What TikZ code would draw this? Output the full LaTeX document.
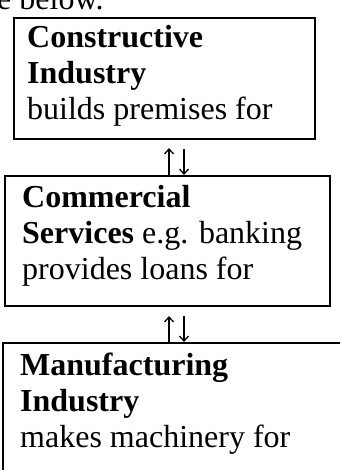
\documentclass[tikz,border=0pt]{standalone}
\usepackage{fontspec}
\setmainfont{Liberation Serif}
\usetikzlibrary{positioning, arrows.meta}

\begin{document}
\begin{tikzpicture}[
    x=1pt, y=1pt,
    font=\fontsize{32}{36}\selectfont,
    panel/.style={draw, rectangle, line width=2pt, outer sep=0pt, anchor=north west},
    boxtext/.style={inner sep=0pt, align=left},
    arrow/.style={-{Straight Barb[length=5pt, width=9pt]}, line width=1.3pt}
]
\clip (0,0) rectangle (340,-470);

% cut-off line of text above the chart
\node[boxtext, anchor=base west] (intro) at (-3,-10) {e below.};

\node[panel, minimum width=301pt, minimum height=121pt] (1) at (14,-18) {};
\node[panel, minimum width=325pt, minimum height=130pt] (2) at (5,-176) {};
\node[panel, minimum width=350pt, minimum height=140pt] (3) at (3,-343) {};

\node[boxtext, below right=7pt and 13pt of 1.north west] (1a) {\textbf{Constructive}\\ \textbf{Industry}\\ builds premises for};
\node[boxtext, below right=9pt and 17pt of 2.north west] (2a) {\textbf{Commercial}\\ \textbf{Services} e.g. banking\\ provides loans for};
\node[boxtext, below right=10pt and 17pt of 3.north west] (3a) {\textbf{Manufacturing}\\ \textbf{Industry}\\ makes machinery for};

\coordinate (u1) at (169,-148);
\coordinate (d1) at (184,-149);
\coordinate (u2) at (169,-316);
\coordinate (d2) at (184,-316);

\draw[arrow] (2.north -| u1) -- (u1);
\draw[arrow, shorten >=1pt] (d1) -- (2.north -| d1);
\draw[arrow] (3.north -| u2) -- (u2);
\draw[arrow, shorten >=1pt] (d2) -- (3.north -| d2);

\end{tikzpicture}
\end{document}
